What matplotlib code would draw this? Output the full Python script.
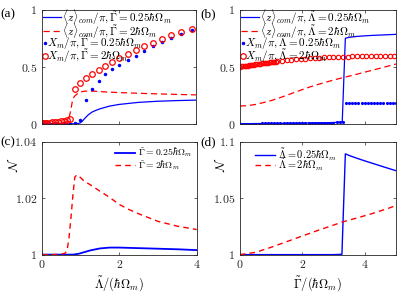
import numpy as np
import matplotlib.pyplot as plt

plt.rcParams['mathtext.fontset'] = 'cm'
plt.rcParams['font.family'] = 'serif'
plt.rcParams['font.serif'] = ['Liberation Serif', 'DejaVu Serif']
plt.rcParams['font.size'] = 8

BLUE = '#0000ff'
RED = '#ff0000'

# (a) lines vs Lambda
lam_a = [0, 0.25, 0.5, 0.6, 0.65, 0.7, 0.75, 0.8, 0.85, 0.9, 0.95, 1.0, 1.05, 1.1,
         1.2, 1.3, 1.4, 1.5, 1.75, 2.0, 2.5, 3.0, 3.5, 4.0]
z_a_g025 = [0.001, 0.001, 0.002, 0.002, 0.002, 0.002, 0.003, 0.003, 0.003, 0.004, 0.006,
            0.012, 0.025, 0.045, 0.08, 0.105, 0.12, 0.133, 0.157, 0.172, 0.19, 0.2, 0.206, 0.21]
z_a_g2 = [0.01, 0.011, 0.013, 0.016, 0.02, 0.05, 0.12, 0.22, 0.245, 0.26, 0.272, 0.28,
          0.285, 0.288, 0.29, 0.289, 0.287, 0.285, 0.28, 0.276, 0.27, 0.265, 0.26, 0.256]
# (a) markers
lam_a_m = [0, 0.04, 0.09, 0.14, 0.2, 0.27, 0.34, 0.42, 0.5, 0.58, 0.66, 0.74,
           0.866, 0.996, 1.143, 1.307, 1.472, 1.636, 1.818, 2.009, 2.234, 2.442,
           2.649, 2.874, 3.117, 3.359, 3.619, 3.896]
xm_a_g025 = [0.002, 0.002, 0.002, 0.002, 0.002, 0.003, 0.003, 0.003, 0.003, 0.004, 0.004, 0.005,
             0.008, 0.04, 0.21, 0.31, 0.38, 0.44, 0.48, 0.52, 0.56, 0.6,
             0.64, 0.68, 0.72, 0.755, 0.79, 0.82]
xm_a_g2 = [0.008, 0.009, 0.01, 0.011, 0.013, 0.015, 0.017, 0.02, 0.024, 0.028, 0.035, 0.048,
           0.31, 0.362, 0.401, 0.439, 0.474, 0.512, 0.544, 0.579, 0.614, 0.649,
           0.68, 0.71, 0.743, 0.784, 0.81, 0.836]

# (b) lines vs Gamma
gam_b = [0, 0.25, 0.5, 0.75, 1.0, 1.25, 1.5, 1.75, 2.0, 2.25, 2.5, 2.75, 3.0, 3.28, 3.38,
         3.5, 3.75, 4.0, 4.25, 4.5, 4.75, 5.0]
z_b_l025 = [0.004, 0.004, 0.005, 0.005, 0.006, 0.006, 0.007, 0.008, 0.009, 0.01, 0.011,
            0.012, 0.014, 0.018, 0.752, 0.76, 0.768, 0.773, 0.777, 0.78, 0.783, 0.786]
z_b_l2 = [0.158, 0.162, 0.172, 0.188, 0.206, 0.228, 0.252, 0.278, 0.302, 0.326, 0.347,
          0.367, 0.386, 0.405, 0.412, 0.42, 0.437, 0.455, 0.472, 0.49, 0.508, 0.526]
# (b) markers
gam_b_m025 = np.arange(0, 5.01, 0.1)
xm_b_l025 = [0.004, 0.004, 0.004, 0.005, 0.005, 0.005, 0.005, 0.006, 0.006, 0.006,
             0.006, 0.007, 0.007, 0.007, 0.008, 0.008, 0.008, 0.009, 0.009, 0.009,
             0.01, 0.01, 0.011, 0.011, 0.012, 0.012, 0.012, 0.013, 0.013, 0.014,
             0.014, 0.015, 0.016, 0.016, 0.187, 0.187, 0.187, 0.187, 0.187, 0.187,
             0.187, 0.187, 0.187, 0.187, 0.187, 0.187, 0.187, 0.187, 0.187, 0.187, 0.187]
gam_b_m2 = [0, 0.05, 0.1, 0.15, 0.2, 0.25, 0.3, 0.35, 0.4, 0.45, 0.5, 0.55, 0.6, 0.65,
            0.7, 0.75, 0.8, 0.85, 0.9, 0.95, 1.0, 1.05, 1.1, 1.15, 1.2,
            1.35, 1.5, 1.65, 1.8, 1.95, 2.1, 2.25, 2.4, 2.55, 2.7, 2.85, 3.0, 3.15,
            3.3, 3.45, 3.6, 3.75, 3.9, 4.05, 4.2, 4.35, 4.5, 4.65, 4.8, 4.95]
xm_b_l2 = [0.503, 0.505, 0.507, 0.509, 0.511, 0.513, 0.515, 0.517, 0.519, 0.521, 0.523,
           0.525, 0.527, 0.529, 0.531, 0.533, 0.535, 0.537, 0.539, 0.541, 0.543, 0.545,
           0.546, 0.548, 0.55, 0.554, 0.559, 0.563, 0.567, 0.571, 0.574, 0.577, 0.58,
           0.583, 0.585, 0.587, 0.589, 0.59, 0.591, 0.592, 0.593, 0.593, 0.594, 0.594,
           0.594, 0.595, 0.595, 0.595, 0.595, 0.595]

# (c) N vs Lambda
lam_c = [0, 0.3, 0.5, 0.6, 0.65, 0.7, 0.75, 0.8, 0.85, 0.9, 0.95, 1.0, 1.1, 1.25, 1.5,
         1.75, 2.0, 2.25, 2.5, 3.0, 3.5, 4.0]
n_c_g025 = [1.0, 1.0, 1.0, 1.0, 1.0, 1.0, 1.0, 1.0, 1.0001, 1.0002, 1.0003, 1.0005,
            1.0009, 1.0015, 1.0022, 1.0025, 1.0025, 1.0024, 1.0023, 1.0021, 1.0019, 1.0016]
n_c_g2 = [1.0, 1.0, 1.0002, 1.0005, 1.0015, 1.006, 1.013, 1.021, 1.0275, 1.0283, 1.0279,
          1.0273, 1.026, 1.0248, 1.0225, 1.0203, 1.0178, 1.016, 1.0145, 1.0118, 1.0101, 1.0089]

# (d) N vs Gamma
gam_d = [0, 0.5, 1.0, 1.5, 2.0, 2.5, 3.0, 3.27, 3.38, 3.5, 3.75, 4.0, 4.25, 4.5, 4.75, 5.0]
n_d_l025 = [1.0, 1.0, 1.0, 1.0, 1.0, 1.0, 1.0, 1.0003, 1.0894, 1.088, 1.0855, 1.0832,
            1.081, 1.0788, 1.0766, 1.0745]
n_d_l2 = [1.0, 1.002, 1.0065, 1.0115, 1.0165, 1.0215, 1.0262, 1.0288, 1.0297, 1.0306,
          1.0325, 1.0345, 1.0365, 1.0388, 1.041, 1.0435]


def style(ax, xmax, yticks, ylabels, xlabels):
    ax.set_xlim(0, xmax)
    ax.set_ylim(yticks[0], yticks[-1])
    ax.set_xticks([0, 2, 4])
    ax.set_yticks(yticks)
    ax.set_yticklabels(ylabels)
    if xlabels:
        ax.set_xticklabels([r'$0$', r'$2$', r'$4$'])
    else:
        ax.set_xticklabels([])
    ax.tick_params(direction='in', top=True, right=True, length=2.5, width=0.5,
                   labelsize=8.5, pad=3.5, colors='0.15')
    for s in ax.spines.values():
        s.set_linewidth(0.6)
        s.set_color('0.15')


# legend row drawn in axes coordinates (MATLAB-like layout)
def key_line(ax, y, x0, x1, xt, label, fs, **kw):
    ax.plot([x0, x1], [y, y], transform=ax.transAxes, clip_on=False, **kw)
    ax.text(xt, y, label, transform=ax.transAxes, va='center', ha='left', fontsize=fs)


def key_marker(ax, y, x0, xt, label, fs, **kw):
    ax.plot([x0], [y], transform=ax.transAxes, clip_on=False, ls='none', **kw)
    ax.text(xt, y, label, transform=ax.transAxes, va='center', ha='left', fontsize=fs)


fig = plt.figure(figsize=(4.15, 2.92), dpi=100)
ax_a = fig.add_axes([0.101, 0.575, 0.371, 0.391])
ax_b = fig.add_axes([0.578, 0.575, 0.376, 0.391])
ax_c = fig.add_axes([0.101, 0.128, 0.373, 0.386])
ax_d = fig.add_axes([0.578, 0.128, 0.376, 0.386])

blue_line = dict(color=BLUE, lw=0.9)
red_line = dict(color=RED, lw=0.9, ls='--', dashes=(5, 3))
blue_dot = dict(marker='.', color=BLUE, ms=3)
red_circ = dict(marker='o', mfc='none', mec=RED, ms=4, mew=0.9)

# (a)
ax_a.plot(lam_a, z_a_g025, **blue_line)
ax_a.plot(lam_a, z_a_g2, **red_line)
ax_a.plot(lam_a_m, xm_a_g025, ls='none', **blue_dot)
ax_a.plot(lam_a_m, xm_a_g2, ls='none', **red_circ)
style(ax_a, 4, [0, 0.5, 1], [r'$0$', r'$0.5$', r'$1$'], False)
key_line(ax_a, 0.935, 0.006, 0.123, 0.13,
         r'$\langle z\rangle_{com}/\pi, \tilde{\Gamma}=0.25\hbar\Omega_m$', 8, **blue_line)
key_line(ax_a, 0.815, 0.006, 0.123, 0.13,
         r'$\langle z\rangle_{com}/\pi, \tilde{\Gamma}=2\hbar\Omega_m$', 8, **red_line)
key_marker(ax_a, 0.71, 0.02, 0.03, r'$X_m/\pi, \tilde{\Gamma}=0.25\hbar\Omega_m$', 8, **blue_dot)
key_marker(ax_a, 0.595, 0.02, 0.03, r'$X_m/\pi, \tilde{\Gamma}=2\hbar\Omega_m$', 8, **red_circ)

# (b)
ax_b.plot(gam_b, z_b_l025, **blue_line)
ax_b.plot(gam_b, z_b_l2, **red_line)
ax_b.plot(gam_b_m025, xm_b_l025, ls='none', color=BLUE, marker='.', ms=2.5)
ax_b.plot(gam_b_m2, xm_b_l2, ls='none', marker='o', mfc='none', mec=RED, ms=3.2, mew=0.8)
style(ax_b, 5, [0, 0.5, 1], [r'$0$', r'$0.5$', r'$1$'], False)
key_line(ax_b, 0.935, 0.006, 0.12, 0.127,
         r'$\langle z\rangle_{com}/\pi, \tilde{\Lambda}=0.25\hbar\Omega_m$', 8, **blue_line)
key_line(ax_b, 0.815, 0.006, 0.12, 0.127,
         r'$\langle z\rangle_{com}/\pi, \tilde{\Lambda}=2\hbar\Omega_m$', 8, **red_line)
key_marker(ax_b, 0.71, 0.02, 0.03, r'$X_m/\pi, \tilde{\Lambda}=0.25\hbar\Omega_m$', 8, **blue_dot)
key_marker(ax_b, 0.6, 0.02, 0.03, r'$X_m/\pi, \tilde{\Lambda}=2\hbar\Omega_m$', 8, **red_circ)

# (c)
ax_c.plot(lam_c, n_c_g025, color=BLUE, lw=1.3)
ax_c.plot(lam_c, n_c_g2, color=RED, lw=1.0, ls='--', dashes=(4, 3))
style(ax_c, 4, [1, 1.02, 1.04], [r'$1$', r'$1.02$', r'$1.04$'], True)
key_line(ax_c, 0.905, 0.47, 0.6, 0.62, r'$\tilde{\Gamma}=0.25\hbar\Omega_m$', 7,
         color=BLUE, lw=1.3)
key_line(ax_c, 0.795, 0.47, 0.6, 0.62, r'$\tilde{\Gamma}=2\hbar\Omega_m$', 7,
         color=RED, lw=1.0, ls='--', dashes=(4, 3))
ax_c.set_ylabel(r'$\mathcal{N}$', fontsize=9)
ax_c.yaxis.set_label_coords(-0.135, 0.8)
ax_c.set_xlabel(r'$\tilde{\Lambda}/(\hbar\Omega_m)$', fontsize=9, labelpad=2)

# (d)
ax_d.plot(gam_d, n_d_l025, color=BLUE, lw=1.0)
ax_d.plot(gam_d, n_d_l2, color=RED, lw=1.0, ls='--', dashes=(4, 3))
style(ax_d, 5, [1, 1.05, 1.1], [r'$1$', r'$1.05$', r'$1.1$'], True)
key_line(ax_d, 0.885, 0.096, 0.224, 0.244, r'$\tilde{\Lambda}=0.25\hbar\Omega_m$', 7.5,
         color=BLUE, lw=1.0)
key_line(ax_d, 0.795, 0.096, 0.224, 0.244, r'$\tilde{\Lambda}=2\hbar\Omega_m$', 7.5,
         color=RED, lw=1.0, ls='--', dashes=(4, 3))
ax_d.set_ylabel(r'$\mathcal{N}$', fontsize=9)
ax_d.yaxis.set_label_coords(-0.077, 0.8)
ax_d.set_xlabel(r'$\tilde{\Gamma}/(\hbar\Omega_m)$', fontsize=9, labelpad=2)

fig.text(0.0, 0.952, '(a)', fontsize=9.5, va='center')
fig.text(0.482, 0.952, '(b)', fontsize=9.5, va='center')
fig.text(0.0, 0.512, '(c)', fontsize=9.5, va='center')
fig.text(0.482, 0.512, '(d)', fontsize=9.5, va='center')

fig.savefig('out.png', dpi=100)
